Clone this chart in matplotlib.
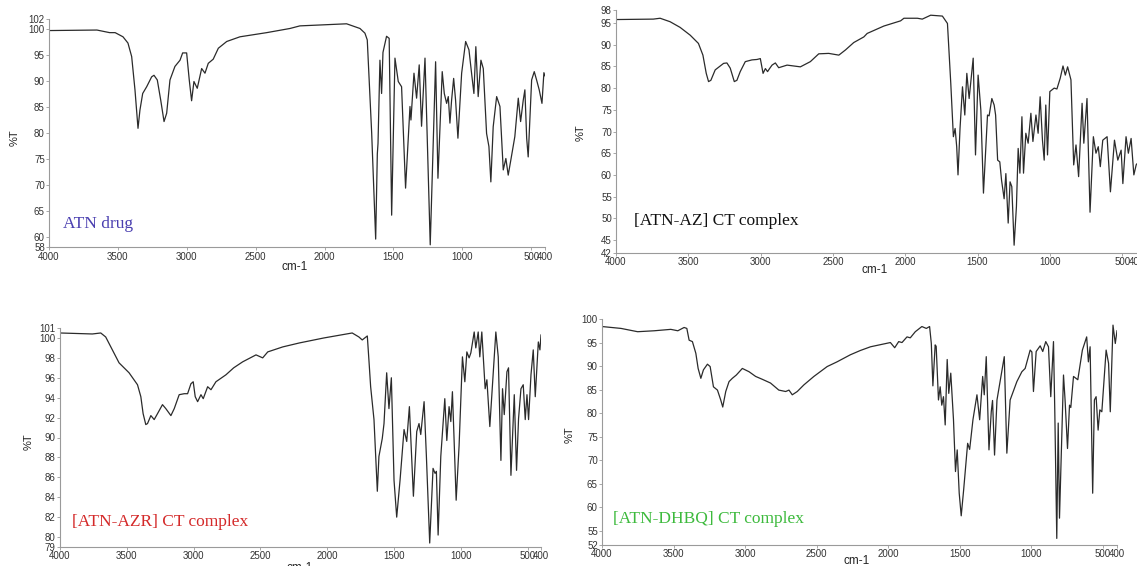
import matplotlib
matplotlib.use("Agg")
import matplotlib.pyplot as plt

plt.rcParams["font.family"] = ["Liberation Sans", "DejaVu Sans"]

W, H = 1137, 566

# --- ATN drug ---
atn_wn = [4000, 3652, 3560, 3520, 3463, 3427, 3400, 3376, 3354, 3340, 3320, 3291, 3255, 3238,
          3214, 3189, 3165, 3146, 3122, 3086, 3049, 3030, 3001, 2982, 2965, 2948, 2924, 2892,
          2868, 2844, 2808, 2771, 2710, 2614, 2420, 2251, 2179, 2009, 1840, 1743, 1707, 1690,
          1658, 1629, 1617, 1612, 1598, 1586, 1576, 1550, 1531, 1513, 1489, 1465, 1441, 1412,
          1380, 1373, 1351, 1332, 1313, 1296, 1271, 1233, 1194, 1177, 1146, 1131, 1114, 1102,
          1090, 1078, 1063, 1049, 1032, 1005, 976, 952, 933, 916, 902, 885, 865, 848, 824, 807,
          793, 776, 751, 727, 703, 684, 667, 648, 619, 594, 577, 558, 546, 533, 522, 497, 478,
          461, 442, 422, 408, 400]
atn_t = [99.7, 99.8, 99.3, 99.3, 98.5, 97.3, 94.7, 88.3, 80.9, 84.4, 87.6, 88.9, 90.8, 91.1,
         90.2, 86.3, 82.2, 83.8, 90.2, 92.8, 94.0, 95.4, 95.4, 90.2, 86.2, 89.9, 88.6, 92.4,
         91.5, 93.4, 94.2, 96.3, 97.6, 98.5, 99.3, 100.1, 100.6, 100.8, 101.0, 100.1, 99.2, 97.9,
         80.0, 59.6, 76.0, 78.0, 94.0, 87.6, 95.5, 98.6, 98.2, 64.2, 94.4, 89.9, 88.9, 69.4,
         85.1, 82.5, 91.5, 86.7, 93.1, 81.3, 94.4, 58.5, 93.7, 71.3, 91.8, 87.6, 85.7, 87.0,
         81.9, 86.3, 90.5, 86.3, 79.0, 91.5, 97.6, 96.0, 91.5, 87.6, 96.6, 87.0, 94.0, 92.4,
         79.9, 77.4, 70.6, 81.2, 87.0, 85.1, 72.9, 75.1, 71.9, 74.8, 79.3, 86.7, 82.2, 86.3,
         88.3, 79.0, 75.4, 90.2, 91.8, 90.2, 88.3, 85.7, 91.6, 91.0]

# --- [ATN-AZ] CT complex ---
az_wn = [4000, 3742, 3695, 3626, 3557, 3487, 3430, 3399, 3376, 3360, 3344, 3314, 3256, 3233,
         3210, 3182, 3164, 3141, 3106, 3060, 3025, 3002, 2983, 2967, 2952, 2938, 2921, 2898,
         2875, 2817, 2725, 2656, 2598, 2529, 2459, 2413, 2356, 2286, 2263, 2148, 2032, 2009,
         1916, 1882, 1824, 1743, 1708, 1685, 1667, 1655, 1644, 1635, 1621, 1604, 1588, 1574,
         1558, 1530, 1514, 1496, 1477, 1459, 1431, 1420, 1401, 1385, 1375, 1361, 1346, 1334,
         1316, 1304, 1288, 1275, 1263, 1247, 1231, 1219, 1207, 1193, 1182, 1166, 1150, 1131,
         1117, 1096, 1081, 1067, 1051, 1039, 1028, 1016, 1000, 970, 951, 928, 909, 893, 877,
         854, 835, 819, 801, 777, 765, 743, 722, 699, 681, 665, 651, 634, 604, 581, 553, 530,
         507, 495, 473, 457, 438, 419, 403, 400]
az_t = [95.8, 95.9, 96.1, 95.3, 94.0, 92.2, 90.3, 87.6, 83.4, 81.5, 81.8, 84.2, 85.7, 85.8,
        84.6, 81.5, 81.8, 83.8, 86.1, 86.5, 86.6, 86.8, 83.4, 84.5, 83.8, 84.5, 85.3, 85.8,
        84.7, 85.3, 84.9, 86.1, 87.9, 88.0, 87.6, 88.8, 90.5, 91.8, 92.6, 94.3, 95.5, 96.1,
        96.1, 95.9, 96.8, 96.6, 94.9, 81.1, 68.8, 70.7, 66.5, 60.0, 70.7, 80.3, 73.8, 83.4,
        77.6, 86.9, 64.6, 83.0, 74.9, 55.8, 73.8, 73.6, 77.6, 76.1, 73.8, 63.4, 63.0, 58.8,
        54.5, 60.3, 48.9, 58.4, 57.3, 43.8, 52.7, 66.1, 60.4, 73.4, 60.4, 69.6, 67.3, 74.2,
        67.7, 73.8, 69.6, 78.0, 68.0, 63.4, 76.1, 64.6, 79.2, 80.0, 79.8, 82.3, 85.1, 83.0, 84.9,
        81.9, 62.3, 66.9, 59.6, 76.5, 67.3, 77.6, 51.4, 68.8, 65.0, 66.5, 61.9, 68.0, 68.8, 56.1,
        68.0, 63.4, 65.7, 58.0, 68.8, 65.0, 68.4, 60.0, 62.3, 62.5]

# --- [ATN-AZR] CT complex ---
azr_wn = [4000, 3758, 3695, 3658, 3608, 3558, 3483, 3420, 3395, 3378, 3358, 3345, 3320, 3295,
          3270, 3233, 3208, 3170, 3145, 3108, 3070, 3045, 3020, 3003, 2988, 2970, 2945, 2928,
          2895, 2870, 2833, 2758, 2700, 2633, 2533, 2483, 2445, 2333, 2208, 2025, 1813, 1763,
          1738, 1700, 1688, 1675, 1650, 1625, 1613, 1588, 1575, 1555, 1538, 1520, 1500, 1480,
          1455, 1425, 1405, 1385, 1355, 1330, 1313, 1300, 1275, 1258, 1233, 1208, 1193, 1183,
          1170, 1150, 1120, 1105, 1088, 1075, 1063, 1050, 1035, 1013, 988, 970, 955, 938, 925,
          900, 888, 870, 858, 843, 818, 805, 783, 738, 720, 700, 688, 675, 655, 643, 625, 600,
          583, 568, 550, 533, 518, 505, 493, 475, 458, 443, 420, 408, 400]
azr_t = [100.5, 100.4, 100.5, 100.1, 98.8, 97.5, 96.5, 95.3, 94.1, 92.4, 91.3, 91.4, 92.2, 91.8,
         92.4, 93.3, 92.9, 92.2, 92.9, 94.3, 94.4, 94.4, 95.4, 95.6, 94.1, 93.6, 94.3, 93.9,
         95.1, 94.8, 95.6, 96.3, 97.0, 97.6, 98.3, 98.0, 98.6, 99.1, 99.5, 100.0, 100.5, 100.1,
         99.8, 100.2, 97.8, 95.1, 91.8, 84.6, 88.1, 89.9, 91.4, 96.5, 92.9, 96.0, 85.7, 82.0,
         85.7, 90.8, 89.6, 93.1, 84.1, 90.6, 91.4, 90.3, 93.6, 88.2, 79.4, 86.9, 86.4, 86.6,
         80.2, 88.1, 93.9, 89.7, 93.1, 91.6, 94.6, 89.6, 83.7, 89.2, 98.1, 95.6, 98.6, 98.0, 98.5,
         100.6, 99.0, 100.6, 98.1, 100.6, 94.9, 95.8, 91.1, 100.6, 98.1, 87.7, 94.9, 92.3, 96.6,
         97.0, 86.2, 94.3, 86.7, 91.9, 94.9, 95.3, 91.8, 94.3, 91.8, 96.3, 98.8, 94.1, 99.6, 98.8,
         100.3]

# --- [ATN-DHBQ] CT complex ---
dhbq_wn = [4000, 3867, 3751, 3635, 3519, 3470, 3426, 3407, 3391, 3368, 3344, 3328, 3309, 3291,
           3263, 3244, 3221, 3193, 3170, 3156, 3135, 3112, 3089, 3061, 3019, 2972, 2926, 2880,
           2822, 2764, 2716, 2693, 2670, 2635, 2589, 2519, 2426, 2357, 2264, 2195, 2123, 1984,
           1954, 1926, 1903, 1868, 1845, 1810, 1764, 1733, 1710, 1698, 1687, 1671, 1664, 1648,
           1636, 1625, 1613, 1601, 1587, 1576, 1562, 1543, 1529, 1517, 1503, 1489, 1472, 1444,
           1430, 1407, 1379, 1360, 1339, 1328, 1314, 1295, 1279, 1270, 1256, 1239, 1188, 1170,
           1147, 1100, 1065, 1042, 1007, 995, 984, 965, 937, 919, 898, 879, 863, 844, 835, 821,
           811, 802, 774, 763, 746, 732, 723, 704, 674, 642, 612, 600, 588, 570, 558, 546, 532,
           520, 506, 476, 459, 447, 428, 412, 400]
dhbq_t = [98.4, 98.0, 97.3, 97.5, 97.8, 97.5, 98.2, 98.0, 95.5, 95.2, 92.7, 89.5, 87.4, 89.2,
          90.4, 89.9, 85.6, 84.9, 82.8, 81.3, 84.6, 86.7, 87.4, 88.1, 89.5, 88.8, 87.8, 87.2,
          86.4, 84.9, 84.6, 84.9, 83.9, 84.6, 86.0, 87.8, 89.9, 90.9, 92.4, 93.3, 94.1, 95.0,
          93.9, 95.2, 95.0, 96.2, 96.0, 97.3, 98.4, 98.0, 98.4, 94.8, 85.8, 94.5, 94.2, 82.8,
          85.6, 81.7, 83.5, 77.5, 91.4, 84.2, 88.5, 78.6, 67.6, 72.2, 63.0, 58.2, 63.7, 73.6,
          72.3, 78.6, 83.9, 78.6, 87.8, 83.9, 92.0, 72.2, 80.3, 82.7, 71.1, 82.8, 92.0, 71.5,
          82.8, 86.7, 88.8, 89.5, 93.4, 93.0, 84.6, 93.1, 94.3, 93.1, 95.2, 94.1, 83.5, 95.2, 80.7,
          53.4, 77.9, 57.7, 88.1, 82.8, 72.5, 81.7, 81.2, 87.8, 87.1, 93.4, 96.2, 90.9, 94.1, 63.0,
          82.8, 83.5, 76.4, 80.7, 80.3, 93.4, 90.6, 80.3, 98.7, 94.8, 97.5]

x_ticks = [4000, 3500, 3000, 2500, 2000, 1500, 1000, 500, 400]

# pixel boxes: left, right, top, bottom
panels = [
    dict(wn=atn_wn, t=atn_t, box=(49, 545, 18.6, 247.4), ylim=(58, 102),
         yticks=[58, 60, 65, 70, 75, 80, 85, 90, 95, 100, 102],
         label="ATN drug", color="#4a3fb0", lpos=(63, 224),
         ylab=(15, 138), xlab=(295, 267)),
    dict(wn=az_wn, t=az_t, box=(616, 1136.6, 10, 253), ylim=(42, 98),
         yticks=[42, 45, 50, 55, 60, 65, 70, 75, 80, 85, 90, 95, 98],
         label="[ATN-AZ] CT complex", color="#111111", lpos=(634, 221),
         ylab=(581, 133), xlab=(875, 270)),
    dict(wn=azr_wn, t=azr_t, box=(60, 541, 328, 547), ylim=(79, 101),
         yticks=[79, 80, 82, 84, 86, 88, 90, 92, 94, 96, 98, 100, 101],
         label="[ATN-AZR] CT complex", color="#d42a2a", lpos=(72, 522),
         ylab=(29, 442), xlab=(300, 568)),
    dict(wn=dhbq_wn, t=dhbq_t, box=(602, 1117, 319, 545), ylim=(52, 100),
         yticks=[52, 55, 60, 65, 70, 75, 80, 85, 90, 95, 100],
         label="[ATN-DHBQ] CT complex", color="#3dba3d", lpos=(613, 519),
         ylab=(570, 435), xlab=(857, 561)),
]

fig = plt.figure(figsize=(W / 100, H / 100), dpi=100)

for p in panels:
    l, r, t, b = p["box"]
    ax = fig.add_axes([l / W, 1 - b / H, (r - l) / W, (b - t) / H])
    ax.plot(p["wn"], p["t"], color="#2b2b2b", lw=0.9)
    ax.set_xlim(4000, 400)
    ax.set_ylim(*p["ylim"])
    ax.set_xticks(x_ticks)
    ax.set_yticks(p["yticks"])
    for side in ("top", "right"):
        ax.spines[side].set_visible(False)
    for side in ("left", "bottom"):
        ax.spines[side].set_color("#9a9a9a")
        ax.spines[side].set_linewidth(0.8)
    ax.tick_params(length=2, width=0.6, color="#9a9a9a", labelsize=7,
                   labelcolor="#333333", pad=1)
    # sample name, axis titles
    fig.text(p["lpos"][0] / W, 1 - p["lpos"][1] / H, p["label"], color=p["color"],
             family=["Liberation Serif", "DejaVu Serif"], fontsize=12.5,
             ha="left", va="center")
    fig.text(p["ylab"][0] / W, 1 - p["ylab"][1] / H, "%T", rotation=90,
             fontsize=8, color="#222222", ha="center", va="center")
    fig.text(p["xlab"][0] / W, 1 - p["xlab"][1] / H, "cm-1",
             fontsize=8.5, color="#222222", ha="center", va="center")

fig.savefig("out.png", dpi=100, facecolor="white")
